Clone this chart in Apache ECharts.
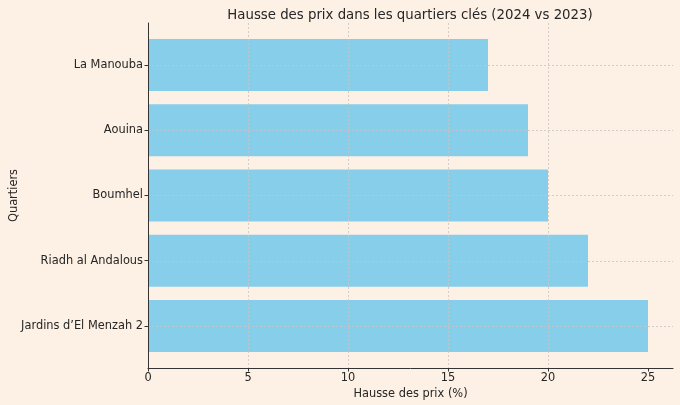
<!DOCTYPE html>
<html><head><meta charset="utf-8">
<script src="https://cdn.jsdelivr.net/npm/echarts@6/dist/echarts.min.js"></script>
<style>html,body{margin:0;padding:0;background:#fdf0e4}#c{width:680px;height:405px}</style>
</head><body><div id="c"></div>
<script>
const categories = ['Jardins d\u2019El Menzah 2', 'Riadh al Andalous', 'Boumhel', 'Aouina', 'La Manouba'];
const values = [25, 22, 20, 19, 17];
const xTicks = [0, 5, 10, 15, 20, 25];
const xMax = 26.25;
const yMin = -0.64, yMax = 4.64;

const font = 'DejaVu Sans';
const txt = '#262626';
const fs = 11.4;
const gridLine = { show: true, showMinLine: false, showMaxLine: false, lineStyle: { color: '#c8c4c0', type: [2, 2], width: 0.8 } };

const chart = echarts.init(document.getElementById('c'), null, { renderer: 'canvas' });
chart.setOption({
  backgroundColor: '#fdf0e4',
  animation: false,
  title: {
    text: 'Hausse des prix dans les quartiers clés (2024 vs 2023)',
    left: 405, top: 4, textAlign: 'center',
    textStyle: { fontFamily: font, fontSize: 13.3, fontWeight: 'normal', color: txt }
  },
  grid: [
    { left: 148, right: 7, top: 23, bottom: 37 },
    { left: 148, right: 7, top: 32.4, bottom: 46.4 }
  ],
  xAxis: [
    {
      gridIndex: 0, type: 'value', min: 0, max: xMax, interval: 5, z: 5,
      name: 'Hausse des prix (%)', nameLocation: 'middle', nameGap: 17,
      nameTextStyle: { fontFamily: font, fontSize: fs, color: txt },
      axisLine: { show: true, onZero: false, lineStyle: { color: '#333', width: 1 } },
      axisTick: { show: true, length: 3.5, customValues: xTicks, lineStyle: { color: '#333' } },
      axisLabel: { customValues: xTicks, margin: 5, fontFamily: font, fontSize: fs, color: txt },
      splitLine: gridLine
    },
    { gridIndex: 1, type: 'value', min: 0, max: xMax, show: false, splitLine: { show: false } }
  ],
  yAxis: [
    {
      gridIndex: 0, type: 'value', min: yMin, max: yMax, z: 5,
      name: 'Quartiers', nameLocation: 'middle', nameGap: 128,
      nameTextStyle: { fontFamily: font, fontSize: fs, color: txt },
      axisLine: { show: true, onZero: false, lineStyle: { color: '#333', width: 1 } },
      axisTick: { show: false }, axisLabel: { show: false },
      splitLine: gridLine
    },
    {
      gridIndex: 1, type: 'category', data: categories, z: 5,
      axisLine: { show: false },
      axisTick: { show: true, alignWithLabel: true, length: 3.5, lineStyle: { color: '#333' } },
      axisLabel: { margin: 5, fontFamily: font, fontSize: fs, color: txt },
      splitLine: { show: false }
    }
  ],
  series: [{
    type: 'bar', xAxisIndex: 1, yAxisIndex: 1, data: values,
    barCategoryGap: '20%', z: 2,
    itemStyle: { color: '#87ceeb' }
  }]
});
</script></body></html>
